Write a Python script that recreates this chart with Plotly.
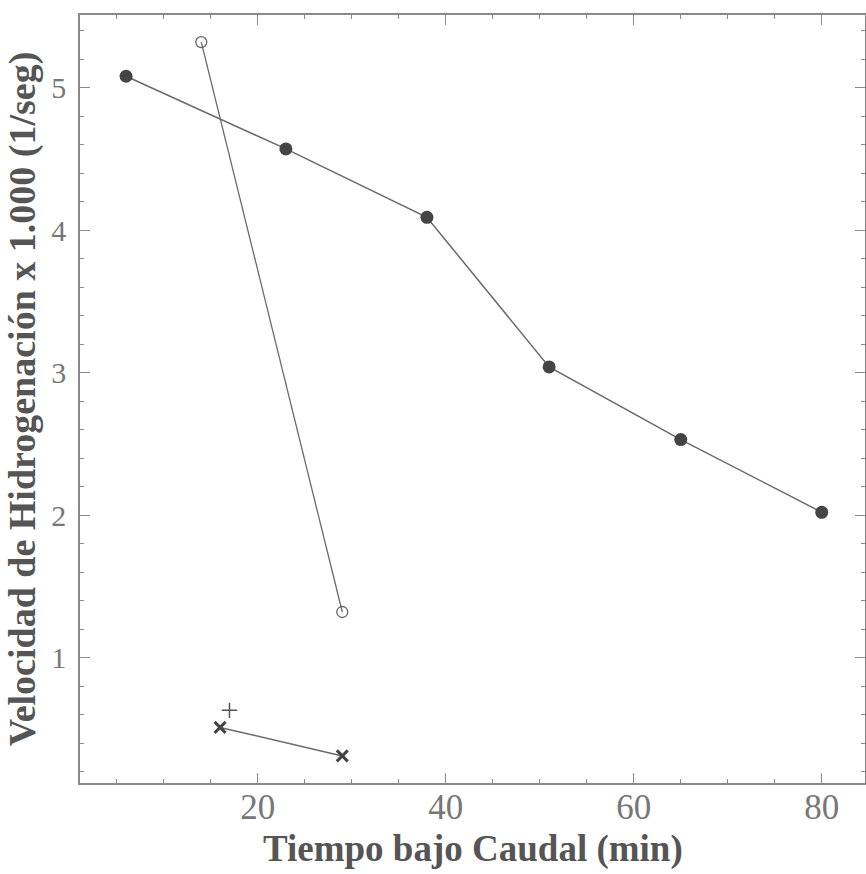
import plotly.graph_objects as go

# Data
filled_x = [6, 23, 38, 51, 65, 80]
filled_y = [5.08, 4.57, 4.09, 3.04, 2.53, 2.02]
open_x = [14, 29]
open_y = [5.32, 1.32]
cross_x = [16, 29]
cross_y = [0.51, 0.31]
plus_x = [17]
plus_y = [0.63]

x_ticks = [20, 40, 60, 80]
y_ticks = [1, 2, 3, 4, 5]
x_title = "Tiempo bajo Caudal (min)"
y_title = "Velocidad de Hidrogenación x 1.000 (1/seg)"

LINE = "#6a6a6a"
MARK = "#444444"
AX = "#8a8a8a"

fig = go.Figure()
fig.add_trace(go.Scatter(x=filled_x, y=filled_y, mode="lines+markers",
                         line=dict(color=LINE, width=1.5),
                         marker=dict(symbol="circle", size=13, color=MARK)))
fig.add_trace(go.Scatter(x=open_x, y=open_y, mode="lines+markers",
                         line=dict(color=LINE, width=1.3),
                         marker=dict(symbol="circle-open", size=11, color="#666666",
                                     line=dict(width=1.3))))
fig.add_trace(go.Scatter(x=cross_x, y=cross_y, mode="lines+markers",
                         line=dict(color=LINE, width=1.5),
                         marker=dict(symbol="x-thin", size=11, color=MARK,
                                     line=dict(width=3, color=MARK))))
fig.add_trace(go.Scatter(x=plus_x, y=plus_y, mode="markers",
                         marker=dict(symbol="cross-thin", size=11, color="#555555",
                                     line=dict(width=1.5, color="#555555"))))

axis_common = dict(
    showgrid=False, zeroline=False, showline=True, linecolor=AX, linewidth=1.5,
    mirror="allticks", ticks="inside", tickcolor=AX, tickwidth=1.2, ticklen=10,
)

fig.update_xaxes(range=[1.1, 84.6], tickvals=x_ticks,
                 tickfont=dict(family="Liberation Serif", size=35, color="#777777"),
                 minor=dict(dtick=5, ticks="inside", ticklen=4, tickcolor=AX, showgrid=False),
                 ticklabelstandoff=-8, **axis_common)
fig.update_yaxes(range=[0.12, 5.51], tickvals=y_ticks,
                 tickfont=dict(family="Liberation Serif", size=30, color="#777777"),
                 minor=dict(dtick=0.2, tick0=0, ticks="inside", ticklen=4, tickcolor=AX, showgrid=False),
                 title=dict(text="<b>" + y_title + "</b>", standoff=4,
                            font=dict(family="Liberation Serif", size=38, color="#555555")),
                 ticklabelstandoff=6, **axis_common)

fig.add_annotation(text="<b>" + x_title + "</b>", xref="paper", yref="paper",
                   x=0.5, y=0, xanchor="center", yanchor="top", yshift=-43,
                   showarrow=False,
                   font=dict(family="Liberation Serif", size=37, color="#555555"))

fig.update_layout(
    width=866, height=874, showlegend=False,
    plot_bgcolor="white", paper_bgcolor="white",
    margin=dict(l=80, r=1, t=15, b=91, autoexpand=False),
)

fig.write_html("out.html", config={"displayModeBar": False},
               post_script="document.body.style.margin='0';document.body.style.overflow='hidden';")
